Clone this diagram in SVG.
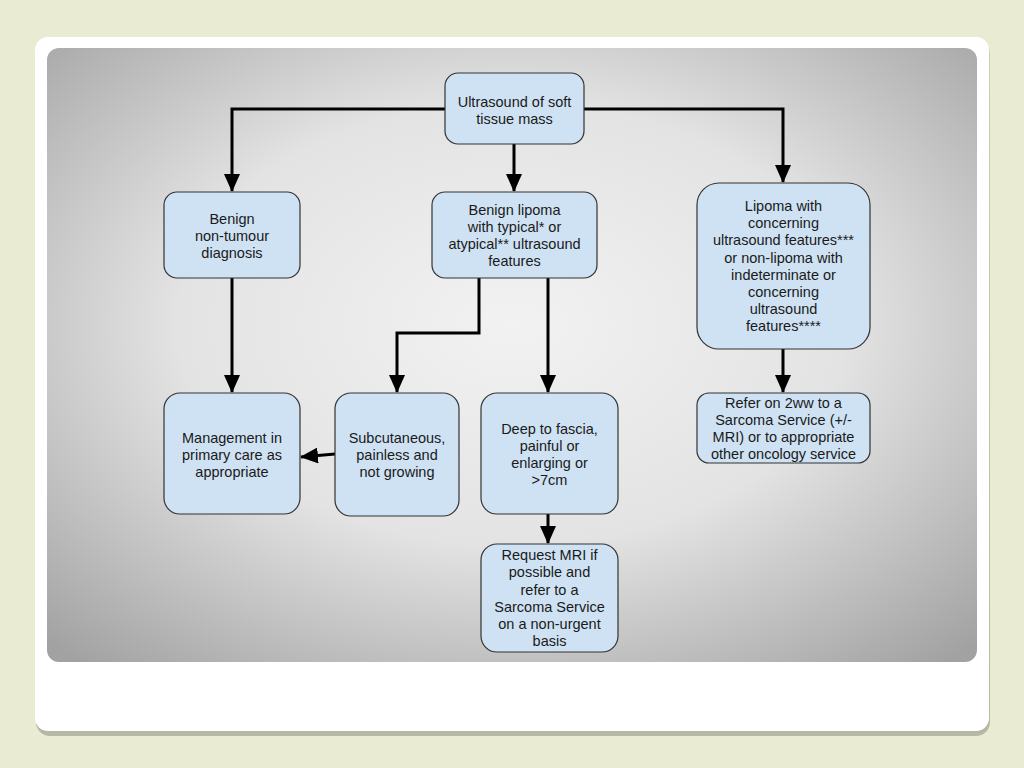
<svg xmlns="http://www.w3.org/2000/svg" width="1024" height="768" viewBox="0 0 1024 768">
<defs>
<style>
.node rect{fill:#cfe2f3;stroke:#333;stroke-width:1.2}
.node text{font-family:"Liberation Sans",Arial,sans-serif;font-size:14.5px;fill:#1a1a1a;text-anchor:middle}
.conn path{fill:none;stroke:#000;stroke-width:3;marker-end:url(#ah)}
</style>
<marker id="ah" markerUnits="userSpaceOnUse" markerWidth="18" markerHeight="16" viewBox="0 0 18 16" refX="17" refY="8" orient="auto">
<path d="M0,0 L18,8 L0,16 z" fill="#000"/>
</marker>
<radialGradient id="bg" cx="50%" cy="45%" r="72%">
<stop offset="0" stop-color="#f2f2f2"/>
<stop offset="0.5" stop-color="#e3e3e3"/>
<stop offset="1" stop-color="#a2a2a2"/>
</radialGradient>
<linearGradient id="sh" x1="0" y1="0" x2="0" y2="1">
<stop offset="0" stop-color="#c4c5b4"/>
<stop offset="1" stop-color="#a9aa9a"/>
</linearGradient>
</defs>
<rect width="1024" height="768" fill="#e9ecd2"/>
<rect x="36" y="40" width="954" height="696" rx="14" fill="url(#sh)" opacity="0.8"/>
<rect x="35" y="37" width="954" height="694" rx="13" fill="#fff"/>
<rect x="47" y="48" width="930" height="614" rx="12" fill="url(#bg)"/>

<g class="conn">
<path d="M445,109 H232 V191"/>
<path d="M514,144 V191"/>
<path d="M584,109 H783 V182"/>
<path d="M232,278 V392"/>
<path d="M479,278 V333 H397 V392"/>
<path d="M548,278 V392"/>
<path d="M783,349 V392"/>
<path d="M548,514 V543"/>
<path d="M335,454 L301,457"/>
</g>

<g id="n1" class="node"><rect x="445" y="73" width="139" height="71" rx="13"/>
<text x="514.5" y="107">Ultrasound of soft</text><text x="514.5" y="124">tissue mass</text></g>

<g id="n2" class="node"><rect x="164" y="192" width="136" height="86" rx="13"/>
<text x="232" y="224">Benign</text><text x="232" y="241">non-tumour</text><text x="232" y="258">diagnosis</text></g>

<g id="n3" class="node"><rect x="432" y="192" width="165" height="86" rx="13"/>
<text x="514.5" y="215">Benign lipoma</text><text x="514.5" y="232">with typical* or</text><text x="514.5" y="249">atypical** ultrasound</text><text x="514.5" y="266">features</text></g>

<g id="n4" class="node"><rect x="697" y="183" width="173" height="166" rx="22"/>
<text x="783.5" y="211">Lipoma with</text><text x="783.5" y="228">concerning</text><text x="783.5" y="245">ultrasound features***</text><text x="783.5" y="263">or non-lipoma with</text><text x="783.5" y="280">indeterminate or</text><text x="783.5" y="297">concerning</text><text x="783.5" y="314">ultrasound</text><text x="783.5" y="331">features****</text></g>

<g id="n5" class="node"><rect x="164" y="393" width="136" height="121" rx="16"/>
<text x="232" y="443">Management in</text><text x="232" y="460">primary care as</text><text x="232" y="477">appropriate</text></g>

<g id="n6" class="node"><rect x="335" y="393" width="124" height="123" rx="16"/>
<text x="397" y="443">Subcutaneous,</text><text x="397" y="460">painless and</text><text x="397" y="477">not growing</text></g>

<g id="n7" class="node"><rect x="481" y="393" width="137" height="121" rx="16"/>
<text x="549.5" y="434">Deep to fascia,</text><text x="549.5" y="451">painful or</text><text x="549.5" y="468">enlarging or</text><text x="549.5" y="485">&gt;7cm</text></g>

<g id="n8" class="node"><rect x="481" y="544" width="137" height="108" rx="16"/>
<text x="549.5" y="560">Request MRI if</text><text x="549.5" y="577">possible and</text><text x="549.5" y="595">refer to a</text><text x="549.5" y="612">Sarcoma Service</text><text x="549.5" y="629">on a non-urgent</text><text x="549.5" y="646">basis</text></g>

<g id="n9" class="node"><rect x="697" y="393" width="173" height="70" rx="12"/>
<text x="783.5" y="408">Refer on 2ww to a</text><text x="783.5" y="425">Sarcoma Service (+/-</text><text x="783.5" y="442">MRI) or to appropriate</text><text x="783.5" y="459">other oncology service</text></g>
</svg>
